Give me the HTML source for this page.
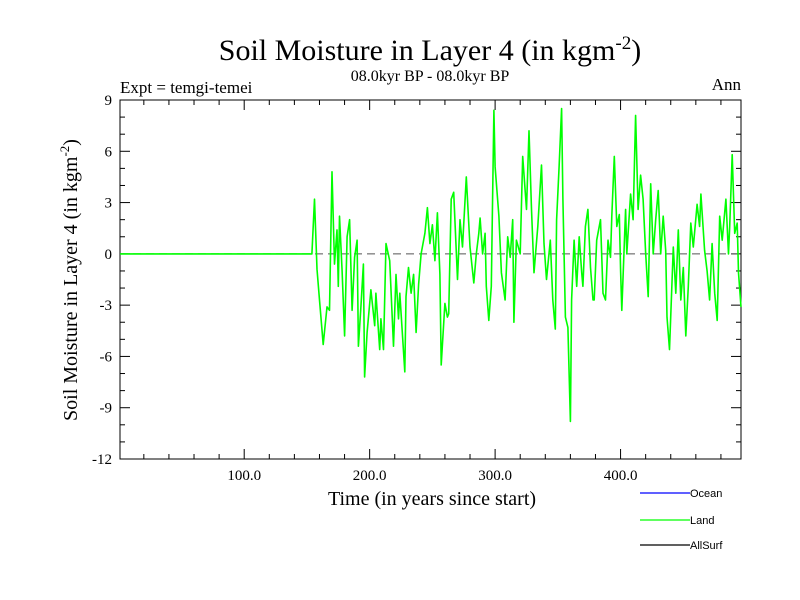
<!DOCTYPE html>
<html><head><meta charset="utf-8"><style>
body{margin:0;background:#fff;}
svg{display:block;}
</style></head><body>
<svg id="chart" width="800" height="600" xmlns="http://www.w3.org/2000/svg">
<text x="430" y="60" font-family="Liberation Serif" font-size="30" text-anchor="middle">Soil Moisture in Layer 4 (in kgm<tspan dy="-11" font-size="19">-2</tspan><tspan dy="11">)</tspan></text>
<text x="430" y="81" font-family="Liberation Serif" font-size="16" text-anchor="middle">08.0kyr BP - 08.0kyr BP</text>
<text x="120" y="93" font-family="Liberation Serif" font-size="17">Expt = temgi-temei</text>
<text x="741" y="90" font-family="Liberation Serif" font-size="17" text-anchor="end">Ann</text>
<g id="axes"></g>
<g id="marks"></g>
<text x="432" y="505" font-family="Liberation Serif" font-size="20" text-anchor="middle">Time (in years since start)</text>
<text transform="translate(77,280) rotate(-90)" font-family="Liberation Serif" font-size="20" text-anchor="middle">Soil Moisture in Layer 4 (in kgm<tspan dy="-8" font-size="13">-2</tspan><tspan dy="8">)</tspan></text>
<g font-family="Liberation Sans" font-size="11">
<line x1="640" y1="493" x2="690" y2="493" stroke="#0000ff" stroke-width="1.2"/>
<text x="690" y="497">Ocean</text>
<line x1="640" y1="520" x2="690" y2="520" stroke="#00ff00" stroke-width="1.2"/>
<text x="690" y="524">Land</text>
<line x1="640" y1="545" x2="690" y2="545" stroke="#000" stroke-width="1.2"/>
<text x="690" y="549">AllSurf</text>
</g>
</svg>
<script>
const years=[1,153,154,156,158,160,163,166,168,170,172,174,175,176,178,180,182,184,186,188,190,191,193,195,196,198,201,204,205,208,209,211,213,216,219,221,223,224,226,228,229,231,233,235,237,239,241,244,246,248,250,252,254,256,257,260,262,263,265,267,270,272,274,277,280,283,285,287,288,290,292,293,295,297,299,300,303,305,308,310,312,314,315,317,320,322,325,327,329,331,334,337,339,341,344,346,348,349,351,353,354,356,358,360,361,363,365,367,369,370,372,374,376,378,379,381,384,386,388,390,392,393,395,397,399,400,401,404,405,408,410,412,414,416,418,420,422,424,426,428,430,432,434,436,437,439,442,444,446,448,450,452,454,456,458,461,463,464,467,469,471,473,475,477,479,481,484,486,487,489,491,493,494,496];
const landValues=[0,0,0,3.2,-0.9,-2.7,-5.3,-3.1,-3.3,4.8,-0.6,1.4,-1.9,2.2,-1.0,-4.8,1.0,2.0,-3.3,-0.2,0.8,-5.4,-3.1,-0.6,-7.2,-4.6,-2.1,-4.2,-2.3,-5.6,-3.8,-5.6,0.6,-0.4,-5.4,-1.2,-3.8,-2.3,-4.6,-6.9,-2.5,-0.8,-2.3,-1.2,-4.6,-1.8,0,1.2,2.7,0.6,1.7,-0.4,2.4,-1.2,-6.5,-2.9,-3.7,-3.5,3.2,3.6,-1.5,2.0,0.4,4.5,0.4,-1.7,0,1.2,2.1,0,1.2,-1.9,-3.9,-1.9,8.4,5.1,2.2,-1.1,-2.7,1.0,-0.2,2.0,-4.0,0.8,0,5.7,2.6,7.2,2.6,-1.1,1.6,5.2,0.6,-1.5,0.8,-2.7,-4.4,2.0,5.1,8.5,3.2,-3.7,-4.3,-9.8,-2.7,0.8,-1.9,1.0,-1.1,-1.9,1.6,2.6,-0.8,-2.7,-2.7,0.8,2.0,-2.3,-2.7,0.8,-0.2,2.2,5.7,1.6,2.3,-1.0,-3.3,2.6,0,3.5,2.0,8.1,2.6,4.6,3.2,0,-2.5,4.1,0,2.0,3.7,0,2.2,0.2,-3.7,-5.6,0.4,-2.3,1.4,-2.7,-0.8,-4.8,-1.9,1.8,0.4,2.9,1.6,3.5,0.2,-1.0,-2.7,0.6,-2.3,-3.9,2.2,0.8,3.2,0,1.6,5.8,1.2,1.8,-1.1,-3.1,-5.3,-1.9,-0.8];
const yTicks=[9,6,3,0,-3,-6,-9,-12];
const xTickLabels=[100,200,300,400];
const L=120,R=741,T=100,B=459,xMin=1,xMax=496,yMin=-12,yMax=9;
const NS='http://www.w3.org/2000/svg';
function xs(v){return L+(v-xMin)/(xMax-xMin)*(R-L);}
function ys(v){return B-(v-yMin)/(yMax-yMin)*(B-T);}
function mk(tag,attrs,parent){const e=document.createElementNS(NS,tag);for(const k in attrs)e.setAttribute(k,attrs[k]);parent.appendChild(e);return e;}
const ax=document.getElementById('axes'),mg=document.getElementById('marks');
const frame=mk('rect',{x:L,y:T,width:R-L,height:B-T,fill:'none',stroke:'#000','stroke-width':1},ax);


for(let v=yMin;v<=yMax;v++){
  const major=yTicks.includes(v);const len=major?10:5;const y=ys(v);
  mk('line',{x1:L,y1:y,x2:L+len,y2:y,stroke:'#000'},ax);
  mk('line',{x1:R,y1:y,x2:R-len,y2:y,stroke:'#000'},ax);
}
yTicks.forEach(v=>{
  const t=mk('text',{x:L-8,y:ys(v)+5,'text-anchor':'end','font-family':'Liberation Serif','font-size':15},ax);
  t.textContent=v;
  
  
});
for(let v=20;v<xMax;v+=20){
  const major=v%100===0;const len=major?10:5;const x=xs(v);
  mk('line',{x1:x,y1:B,x2:x,y2:B-len,stroke:'#000'},ax);
  mk('line',{x1:x,y1:T,x2:x,y2:T+len,stroke:'#000'},ax);
}
xTickLabels.forEach(v=>{
  const t=mk('text',{x:xs(v),y:B+21,'text-anchor':'middle','font-family':'Liberation Serif','font-size':15},ax);
  t.textContent=v.toFixed(1);
  
  
});
const zl=mk('line',{x1:L,y1:ys(0),x2:R,y2:ys(0),stroke:'#555','stroke-dasharray':'8,5','stroke-width':1},mg);


const pts=years.map((y,i)=>xs(y).toFixed(1)+','+ys(landValues[i]).toFixed(1)).join(' ');
const line=mk('polyline',{points:pts,fill:'none',stroke:'#00ff00','stroke-width':1.6,'stroke-linejoin':'round'},mg);


</script>
</body></html>
